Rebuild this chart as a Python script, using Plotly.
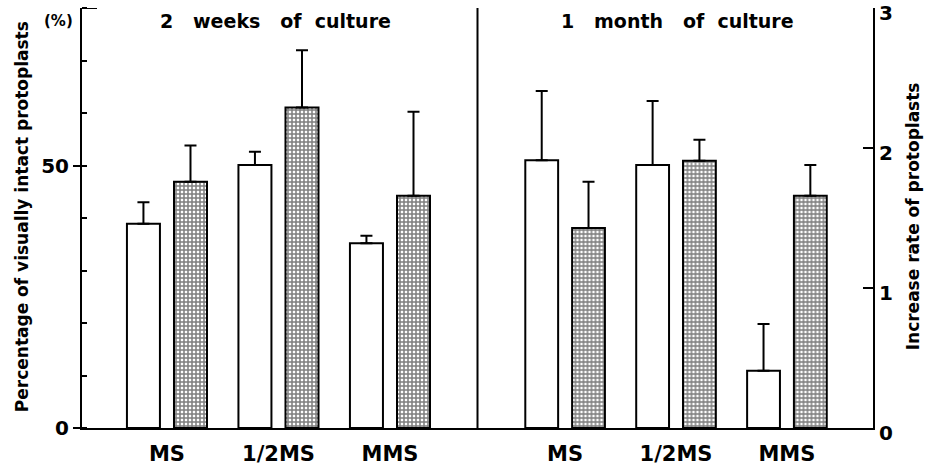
import plotly.graph_objects as go

# ---- data ----
categories = ["MS", "1/2MS", "MMS"]

intact_2w = [38.9, 50.1, 35.2]
intact_2w_err = [4.1, 2.5, 1.4]
rate_2w = [1.76, 2.29, 1.66]
rate_2w_err = [0.26, 0.41, 0.60]

intact_1m = [51.0, 50.1, 10.9]
intact_1m_err = [13.2, 12.2, 8.9]
rate_1m = [1.43, 1.91, 1.66]
rate_1m_err = [0.33, 0.15, 0.22]

left_ticks = [0, 50]
right_ticks = [0, 1, 2, 3]

# ---- style ----
FONT = "DejaVu Sans"
BW = 0.296
OFF_W = -0.359
OFF_H = 0.063
NB = "\u00a0"


def err(arr):
    return dict(type="data", symmetric=False, array=arr, arrayminus=[0] * len(arr),
                color="black", thickness=2, width=6)


white_marker = dict(color="white", line=dict(color="black", width=2))
hatch_marker = dict(color="white", line=dict(color="black", width=2),
                    pattern=dict(shape="+", size=4, solidity=0.62,
                                 fgcolor="black", bgcolor="white"))

fig = go.Figure()
fig.add_trace(go.Bar(x=categories, y=intact_2w, error_y=err(intact_2w_err),
                     xaxis="x", yaxis="y", width=BW, offset=OFF_W,
                     marker=white_marker, showlegend=False))
fig.add_trace(go.Bar(x=categories, y=rate_2w, error_y=err(rate_2w_err),
                     xaxis="x", yaxis="y2", width=BW, offset=OFF_H,
                     marker=hatch_marker, showlegend=False))
fig.add_trace(go.Bar(x=categories, y=intact_1m, error_y=err(intact_1m_err),
                     xaxis="x2", yaxis="y", width=BW, offset=OFF_W,
                     marker=white_marker, showlegend=False))
fig.add_trace(go.Bar(x=categories, y=rate_1m, error_y=err(rate_1m_err),
                     xaxis="x2", yaxis="y2", width=BW, offset=OFF_H,
                     marker=hatch_marker, showlegend=False))

xcommon = dict(type="category", showline=True, linecolor="black", linewidth=2,
               ticks="", showgrid=False, zeroline=False, automargin=False,
               tickfont=dict(family=FONT, size=21, color="black", weight="bold"),
               ticklabelstandoff=6)

fig.update_layout(
    width=927, height=467,
    margin=dict(l=82, r=54, t=8, b=39, autoexpand=False),
    paper_bgcolor="white", plot_bgcolor="white",
    barmode="overlay",
    xaxis=dict(domain=[0, 0.5], range=[-0.762, 2.785], anchor="y", **xcommon),
    xaxis2=dict(domain=[0.5, 1], range=[-0.79, 2.776], anchor="y", **xcommon),
    yaxis=dict(range=[0, 80], anchor="x", side="left", showline=True,
               linecolor="black", linewidth=2, showgrid=False, zeroline=False,
               automargin=False,
               tickvals=left_ticks, ticks="outside", ticklen=7, tickwidth=2,
               tickcolor="black",
               minor=dict(dtick=10, ticks="inside", ticklen=5, tickwidth=1.5,
                          tickcolor="black", showgrid=False),
               tickfont=dict(family=FONT, size=20, color="black", weight="bold")),
    yaxis2=dict(range=[0, 3.002], anchor="x2", side="right", overlaying="y",
                showline=True, linecolor="black", linewidth=2, showgrid=False,
                zeroline=False, automargin=False, ticklabeloverflow="allow",
                ticklabelshift=5,
                tickvals=right_ticks, ticks="inside", ticklen=10,
                tickwidth=2, tickcolor="black",
                tickfont=dict(family=FONT, size=20, color="black", weight="bold")),
    font=dict(family=FONT, color="black"),
)

# divider between panels and top cap of left axis
fig.add_shape(type="line", xref="paper", yref="paper", x0=0.5, x1=0.5, y0=0, y1=1.0,
              line=dict(color="black", width=2))
fig.add_shape(type="line", xref="paper", yref="y", x0=0, x1=0.019, y0=80, y1=80,
              line=dict(color="black", width=2))

ann_font = dict(family=FONT, size=19, color="black", weight="bold")
title_2w = "2" + NB * 2 + " weeks" + NB * 2 + " of" + NB + " culture"
title_1m = "1" + NB * 2 + " month" + NB * 2 + " of" + NB + " culture"
fig.add_annotation(text=title_2w, xref="paper", yref="paper",
                   x=0.244, y=0.97, xanchor="center", yanchor="middle",
                   showarrow=False, font=ann_font)
fig.add_annotation(text=title_1m, xref="paper", yref="paper",
                   x=0.753, y=0.97, xanchor="center", yanchor="middle",
                   showarrow=False, font=ann_font)
fig.add_annotation(text="(%)", xref="paper", yref="paper", x=-0.03, y=0.97,
                   xanchor="center", yanchor="middle", showarrow=False,
                   font=dict(family=FONT, size=15, color="black", weight="bold"))
fig.add_annotation(text="Percentage of visually intact protoplasts", xref="paper",
                   yref="paper", x=-0.076, y=0.504, xanchor="center", yanchor="middle",
                   textangle=-90, showarrow=False,
                   font=dict(family=FONT, size=17, color="black", weight="bold"))
fig.add_annotation(text="Increase rate of protoplasts", xref="paper",
                   yref="paper", x=1.0505, y=0.504, xanchor="center", yanchor="middle",
                   textangle=-90, showarrow=False,
                   font=dict(family=FONT, size=17, color="black", weight="bold"))

fig.write_html("out.html", config={"displayModeBar": False},
               post_script="document.body.style.margin='0';document.body.style.overflow='hidden';")
